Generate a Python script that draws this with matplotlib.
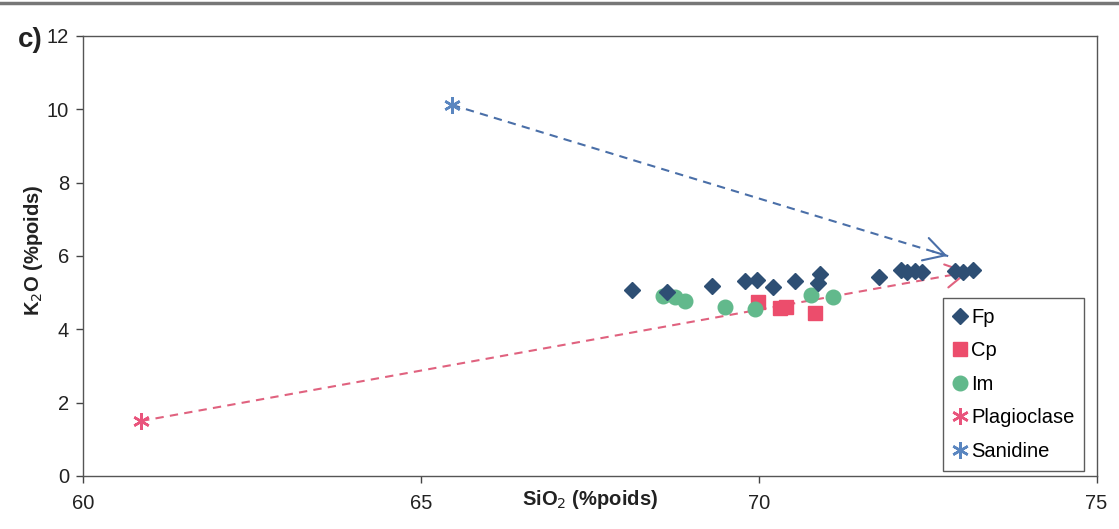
import matplotlib.pyplot as plt
from matplotlib.lines import Line2D

# Fp, Cp, Im analyses (SiO2 vs K2O, wt%)
fp_sio2 = [68.13, 68.64, 69.31, 69.79, 69.97, 70.21, 70.53, 70.91, 70.87,
           71.78, 72.11, 72.20, 72.31, 72.41, 72.90, 73.02, 73.17]
fp_k2o = [5.07, 5.02, 5.19, 5.33, 5.35, 5.16, 5.33, 5.50, 5.27,
          5.43, 5.62, 5.57, 5.60, 5.57, 5.60, 5.57, 5.62]

cp_sio2 = [69.99, 70.31, 70.40, 70.83]
cp_k2o = [4.75, 4.57, 4.60, 4.44]

im_sio2 = [68.58, 68.76, 68.91, 69.50, 69.94, 70.78, 71.10]
im_k2o = [4.92, 4.89, 4.77, 4.62, 4.55, 4.94, 4.89]

# mineral end-members and the end of their mixing arrows
plag_sio2, plag_k2o = 60.86, 1.50
plag_end = (73.15, 5.58)
san_sio2, san_k2o = 65.46, 10.12
san_end = (72.83, 5.98)

xticks = [60, 65, 70, 75]
yticks = [0, 2, 4, 6, 8, 10, 12]

plt.rcParams['font.family'] = ['Liberation Sans', 'DejaVu Sans']

fig = plt.figure(figsize=(11.19, 5.29), dpi=100)
ax = fig.add_axes([0.0742, 0.1002, 0.9058, 0.8318])

c_fp = '#2e4f74'
c_cp = '#ec4d6c'
c_im = '#62b98c'
c_plag = '#e9547c'
c_san = '#5a86c0'

fs = 14.5

# dashed mixing lines with open arrow heads
dash = (0, (4, 3))
head = '->, head_length=0.5, head_width=0.28'
ax.plot([san_sio2, san_end[0]], [san_k2o, san_end[1]], color='#4a6fa8',
        lw=1.5, linestyle=dash, zorder=1)
ax.annotate('', xy=san_end,
            xytext=(san_end[0] - 0.3, san_end[1] + 0.3 * (san_k2o - san_end[1]) / (san_end[0] - san_sio2)),
            arrowprops=dict(arrowstyle=head, color='#4a6fa8', lw=1.5, mutation_scale=30),
            zorder=1)
ax.plot([plag_sio2, plag_end[0]], [plag_k2o, plag_end[1]], color='#e0627f',
        lw=1.5, linestyle=dash, zorder=1)
ax.annotate('', xy=plag_end,
            xytext=(plag_end[0] - 0.3, plag_end[1] - 0.3 * (plag_end[1] - plag_k2o) / (plag_end[0] - plag_sio2)),
            arrowprops=dict(arrowstyle=head, color='#e0627f', lw=1.5, mutation_scale=30),
            zorder=1)

ax.plot(fp_sio2, fp_k2o, linestyle='none', marker='D', ms=8, color=c_fp,
        mec=c_fp, label='Fp', zorder=3)
ax.plot(cp_sio2, cp_k2o, linestyle='none', marker='s', ms=10, color=c_cp,
        mec=c_cp, label='Cp', zorder=2)
ax.plot(im_sio2, im_k2o, linestyle='none', marker='o', ms=10.5, color=c_im,
        mec=c_im, label='Im', zorder=2)
ax.plot([plag_sio2], [plag_k2o], linestyle='none', marker=(6, 2, 0), ms=12,
        mew=1.8, color=c_plag, label='Plagioclase', zorder=3)
ax.plot([san_sio2], [san_k2o], linestyle='none', marker=(6, 2, 0), ms=12,
        mew=1.8, color=c_san, label='Sanidine', zorder=3)

ax.set_xlim(60, 75)
ax.set_ylim(0, 12)
ax.set_xticks(xticks)
ax.set_yticks(yticks)
ax.tick_params(axis='both', direction='out', length=5, width=1,
               color='#444444', labelsize=fs, labelcolor='#222222')
ax.tick_params(axis='x', pad=8)
ax.tick_params(axis='y', pad=5)
for sp in ax.spines.values():
    sp.set_color('#555555')
    sp.set_linewidth(1)

ax.set_xlabel('SiO$_2$ (%poids)', fontsize=fs, fontweight='bold', va='center',
              color='#222222')
ax.xaxis.set_label_coords(0.5, -0.0545)
ax.set_ylabel('K$_2$O (%poids)', fontsize=fs, fontweight='bold', va='center',
              color='#222222')
ax.yaxis.set_label_coords(-0.049, 0.514)

fig.text(0.016, 0.925, 'c)', fontsize=20, fontweight='bold', color='#222222',
         va='center', ha='left')

leg = ax.legend(loc='lower right', bbox_to_anchor=(0.988, 0.012), fontsize=fs,
                frameon=True, fancybox=False, edgecolor='#333333',
                handlelength=0.7, handletextpad=0.2, labelspacing=0.72,
                borderpad=0.5, borderaxespad=0)
leg.get_frame().set_linewidth(1)

# grey edge along the top of the scanned page
fig.add_artist(Line2D([0, 1], [0.995, 0.995], transform=fig.transFigure,
                      color='#777777', lw=2.5))

fig.savefig('out.png', dpi=100)
